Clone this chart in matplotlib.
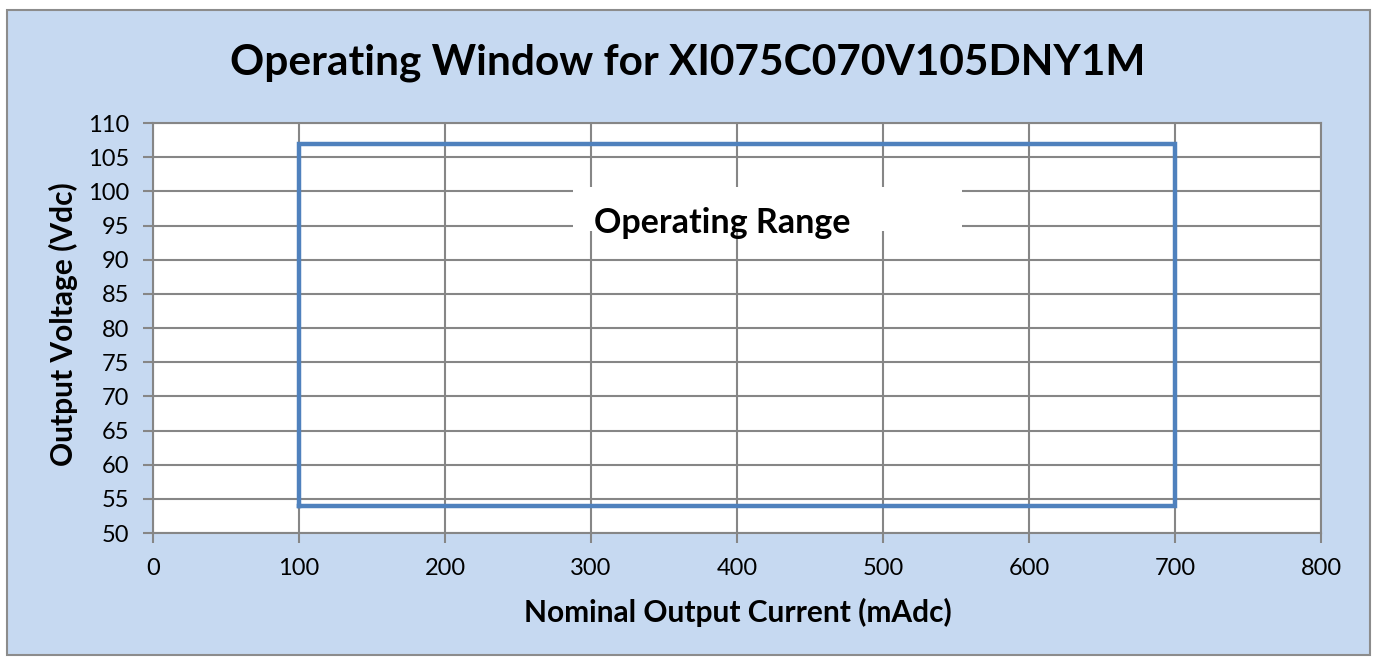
import matplotlib
matplotlib.use("Agg")
from matplotlib import pyplot as plt
from matplotlib.patches import Rectangle

# Operating window corners (mA, V)
current = [100, 700, 700, 100, 100]
voltage = [54, 54, 107, 107, 54]
xticks = [0, 100, 200, 300, 400, 500, 600, 700, 800]
yticks = list(range(50, 111, 5))

plt.rcParams['font.family'] = ['Lato', 'DejaVu Sans']
grid_c = '#868686'

fig = plt.figure(figsize=(13.74, 6.58), dpi=100, facecolor='white')
# chart area background with grey frame
fig.patches.append(Rectangle((7/1374, 3/658), 1363/1374, 645/658,
                             transform=fig.transFigure, facecolor='#C6D9F1',
                             edgecolor='#8C8C8C', lw=1.5, zorder=-10))

ax = fig.add_axes([153/1374, 125/658, 1168/1374, 410/658])
ax.set_facecolor('white')
ax.plot(current, voltage, color='#4F81BD', lw=3.2, solid_joinstyle='miter', zorder=5)

ax.set_xlim(0, 800)
ax.set_ylim(50, 110)
ax.set_xticks(xticks)
ax.set_yticks(yticks)
ax.tick_params(labelsize=17, length=7, width=1.5, color=grid_c)
ax.tick_params(axis='x', pad=11)
ax.tick_params(axis='y', pad=10)
ax.grid(True, color=grid_c, lw=1.5)
ax.set_axisbelow(True)
for s in ax.spines.values():
    s.set_color(grid_c)
    s.set_linewidth(1.5)

# label box
ax.add_patch(Rectangle((420/1168, (533-231)/410), 389/1168, 44/410,
                       transform=ax.transAxes, facecolor='white', edgecolor='none', zorder=3))
ax.text(441/1168, (533-233)/410, 'Operating Range', transform=ax.transAxes,
        fontsize=24.5, fontweight='bold', ha='left', va='baseline', zorder=6)

fig.text(738/1374, 1 - 612/658, 'Nominal Output Current (mAdc)',
         fontsize=21.5, fontweight='bold', ha='center', va='center')
fig.text(63/1374, 1 - 324/658, 'Output Voltage (Vdc)', rotation=90,
         fontsize=21.5, fontweight='bold', ha='center', va='center')
fig.text(688/1374, 1 - 63/658, 'Operating Window for XI075C070V105DNY1M',
         fontsize=30.5, fontweight='bold', ha='center', va='center')

fig.savefig('out.png', dpi=100, facecolor=fig.get_facecolor())
